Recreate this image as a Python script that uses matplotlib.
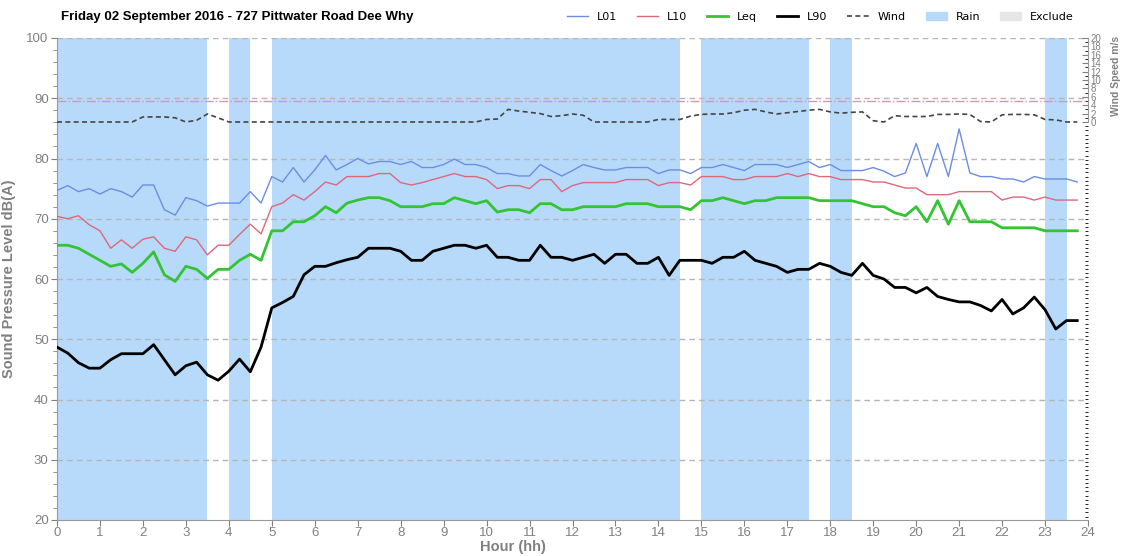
import numpy as np
import matplotlib.pyplot as plt
from matplotlib.lines import Line2D
from matplotlib.patches import Patch
from matplotlib.ticker import MultipleLocator

# 15 minute intervals over the day
hours = np.arange(0, 24, 0.25)

l01 = [74.7, 75.5, 74.5, 75.0, 74.1, 75.0, 74.5, 73.6, 75.6, 75.6, 71.5, 70.6, 73.5, 73.0, 72.1, 72.6,
       72.6, 72.6, 74.5, 72.6, 77.0, 76.1, 78.5, 76.1, 78.1, 80.5, 78.1,
       79.0, 80.0, 79.1, 79.5, 79.5, 79.0, 79.5, 78.5, 78.5, 79.0, 79.9, 79.0, 79.0, 78.5, 77.5, 77.5,
       77.1, 77.1, 79.0, 78.0, 77.1, 78.0,
       79.0, 78.5, 78.1, 78.1, 78.5, 78.5, 78.5, 77.5, 78.1, 78.1, 77.5, 78.5, 78.5, 79.0, 78.5, 78.0,
       79.0, 79.0, 79.0, 78.5, 79.0, 79.5, 78.5, 79.0, 78.0, 78.0, 78.0,
       78.5, 77.9, 77.0, 77.6, 82.5, 77.0, 82.5, 77.0, 84.9, 77.6, 77.0, 77.0, 76.6, 76.6, 76.1, 77.0,
       76.6, 76.6, 76.6, 76.1]
l10 = [70.4, 70.0, 70.5, 69.0, 68.0, 65.1, 66.5, 65.1, 66.6, 67.0, 65.1, 64.6, 67.0, 66.5, 64.0, 65.6,
       65.6, 67.4, 69.1, 67.5, 72.0, 72.6, 74.0, 73.1, 74.5, 76.1, 75.6,
       77.0, 77.0, 77.0, 77.5, 77.5, 76.0, 75.6, 76.0, 76.5, 77.0, 77.5, 77.0, 77.0, 76.5, 75.0, 75.5,
       75.5, 75.0, 76.5, 76.5, 74.5, 75.5,
       76.0, 76.0, 76.0, 76.0, 76.5, 76.5, 76.5, 75.5, 76.0, 76.0, 75.6, 77.0, 77.0, 77.0, 76.5, 76.5,
       77.0, 77.0, 77.0, 77.5, 77.0, 77.5, 77.0, 77.0, 76.5, 76.5, 76.5,
       76.1, 76.1, 75.6, 75.1, 75.1, 74.0, 74.0, 74.0, 74.5, 74.5, 74.5, 74.5, 73.1, 73.6, 73.6, 73.1,
       73.6, 73.1, 73.1, 73.1]
leq = [65.6, 65.6, 65.1, 64.1, 63.1, 62.1, 62.5, 61.1, 62.6, 64.5, 60.7, 59.6, 62.1, 61.6, 60.1, 61.6,
       61.6, 63.1, 64.1, 63.1, 68.0, 68.0, 69.5, 69.5, 70.5, 72.0, 71.0,
       72.6, 73.1, 73.5, 73.5, 73.0, 72.0, 72.0, 72.0, 72.5, 72.5, 73.5, 73.0, 72.5, 73.0, 71.1, 71.5,
       71.5, 71.0, 72.5, 72.5, 71.5, 71.5,
       72.0, 72.0, 72.0, 72.0, 72.5, 72.5, 72.5, 72.0, 72.0, 72.0, 71.5, 73.0, 73.0, 73.5, 73.0, 72.5,
       73.0, 73.0, 73.5, 73.5, 73.5, 73.5, 73.0, 73.0, 73.0, 73.0, 72.5,
       72.0, 72.0, 71.0, 70.5, 72.0, 69.5, 73.0, 69.1, 73.0, 69.5, 69.5, 69.5, 68.5, 68.5, 68.5, 68.5,
       68.0, 68.0, 68.0, 68.0]
l90 = [48.7, 47.7, 46.1, 45.2, 45.2, 46.6, 47.6, 47.6, 47.6, 49.1, 46.6, 44.1, 45.6, 46.2, 44.1, 43.2,
       44.7, 46.7, 44.6, 48.7, 55.2, 56.1, 57.1, 60.7, 62.1, 62.1, 62.7,
       63.2, 63.6, 65.1, 65.1, 65.1, 64.6, 63.1, 63.1, 64.6, 65.1, 65.6, 65.6, 65.1, 65.6, 63.6, 63.6,
       63.1, 63.1, 65.6, 63.6, 63.6, 63.1,
       63.6, 64.1, 62.6, 64.1, 64.1, 62.6, 62.6, 63.6, 60.6, 63.1, 63.1, 63.1, 62.6, 63.6, 63.6, 64.6,
       63.1, 62.6, 62.1, 61.1, 61.6, 61.6, 62.6, 62.1, 61.1, 60.6, 62.6,
       60.6, 60.0, 58.6, 58.6, 57.7, 58.6, 57.1, 56.6, 56.2, 56.2, 55.6, 54.7, 56.6, 54.2, 55.2, 57.0,
       54.9, 51.7, 53.1, 53.1]
wind = [0, 0, 0, 0, 0, 0, 0, 0, 1.2, 1.2, 1.2, 1.0, 0, 0.4, 1.9, 1.0,
        0, 0, 0, 0, 0, 0, 0, 0, 0, 0, 0, 0, 0, 0, 0, 0, 0, 0, 0, 0, 0, 0, 0, 0,
        0.6, 0.7, 3.0, 2.6, 2.3, 2.0, 1.3, 1.5, 1.9, 1.6,
        0, 0, 0, 0, 0, 0,
        0.6, 0.6, 0.6, 1.4,
        1.8, 1.9, 1.9, 2.2, 2.8, 3.0, 2.4, 1.9, 2.2, 2.5, 2.8, 3.0,
        2.4, 2.1, 2.3, 2.4,
        0.3, 0, 1.5, 1.3, 1.3, 1.3, 1.8, 1.8, 1.9, 1.8, 0.1, 0,
        1.7, 1.8, 1.8, 1.7, 0.6, 0.5, 0, 0]

rain_start = [0, 4, 5, 15, 18, 23]
rain_end = [3.5, 4.5, 14.5, 17.5, 18.5, 23.5]
wind_limit = 5

title = "Friday 02 September 2016 - 727 Pittwater Road Dee Why"

grey = "#808080"
plt.rcParams['font.family'] = ['Liberation Sans', 'DejaVu Sans']

W, H = 1124, 556
fig = plt.figure(figsize=(W / 100, H / 100), dpi=100)
ax = fig.add_axes([57 / W, 1 - 520 / H, (1088 - 57) / W, (520 - 38) / H])

for s, e in zip(rain_start, rain_end):
    ax.axvspan(s, e, color="#b7dafb", lw=0, zorder=0)

ax.set_xlim(0, 24)
ax.set_ylim(20, 100)
for v in range(30, 101, 10):
    ax.axhline(v, color="#b5b5b5", ls=(0, (4, 3)), lw=1, zorder=1)

ax.plot(hours, l01, color="#6b8de3", lw=1.0, zorder=3)
ax.plot(hours, l10, color="#e0667a", lw=1.0, zorder=3)
ax.plot(hours, leq, color="#33c433", lw=2.0, zorder=3)
ax.plot(hours, l90, color="#000000", lw=2.0, zorder=3)

ax.xaxis.set_major_locator(MultipleLocator(1))
ax.yaxis.set_major_locator(MultipleLocator(10))
ax.yaxis.set_minor_locator(MultipleLocator(2))
ax.tick_params(axis="both", colors=grey, labelsize=9.5, length=4)
ax.tick_params(axis="y", which="minor", colors=grey, length=3)
ax.tick_params(axis="x", pad=1)
ax.tick_params(axis="y", pad=2)
for sp in ["top", "right"]:
    ax.spines[sp].set_visible(False)
ax.spines["left"].set_color("#999999")
ax.spines["bottom"].set_color("#999999")

ax.set_ylabel("Sound Pressure Level dB(A)", color=grey, fontsize=10.5, fontweight="bold")
ax.yaxis.set_label_coords((16 - 57) / (1088 - 57), 0.5)
fig.text(513 / W, 1 - 547 / H, "Hour (hh)", color=grey, fontsize=10.5, fontweight="bold",
         ha="center", va="center")

# wind on its own scale in the top of the plot
ax2 = ax.twinx()
ax2.set_ylim(-94.8, 20)
ax2.plot(hours, wind, color="#444444", ls=(0, (3, 2)), lw=1.2, zorder=4)
ax2.axhline(wind_limit, color="#d993bd", ls="-.", lw=1, zorder=2)
for sp in ["top", "left", "bottom"]:
    ax2.spines[sp].set_visible(False)
ax2.spines["right"].set_bounds(0, 20)
ax2.spines["right"].set_color("#999999")
ax2.set_yticks(range(0, 21, 2))
ax2.yaxis.set_minor_locator(MultipleLocator(1))
ax2.set_ylim(-94.8, 20)
ax2.tick_params(axis="y", colors=grey, labelsize=7, length=4, pad=2, direction="in")
ax2.tick_params(axis="y", which="minor", length=2, direction="in")
fig.text(1116 / W, 1 - 76 / H, "Wind Speed m/s", color=grey, fontsize=7.5, fontweight="bold",
         rotation=90, ha="center", va="center")

fig.text(61 / W, 1 - 17 / H, title, fontsize=9.5, fontweight="bold", ha="left", va="center")

handles = [
    Line2D([], [], color="#6b8de3", lw=1.0),
    Line2D([], [], color="#e0667a", lw=1.0),
    Line2D([], [], color="#33c433", lw=2.0),
    Line2D([], [], color="#000000", lw=2.0),
    Line2D([], [], color="#444444", ls=(0, (3, 2)), lw=1.2),
    Patch(color="#b7dafb"),
    Patch(color="#e6e6e6"),
]
labels = ["L01", "L10", "Leq", "L90", "Wind", "Rain", "Exclude"]
fig.legend(handles, labels, loc="center right", bbox_to_anchor=(1084 / W, 1 - 17 / H), ncol=7,
           frameon=False, prop={"family": "DejaVu Sans", "size": 8}, handlelength=1.9,
           handleheight=0.7, columnspacing=1.8, handletextpad=0.8)

fig.savefig("out.png", dpi=100)
